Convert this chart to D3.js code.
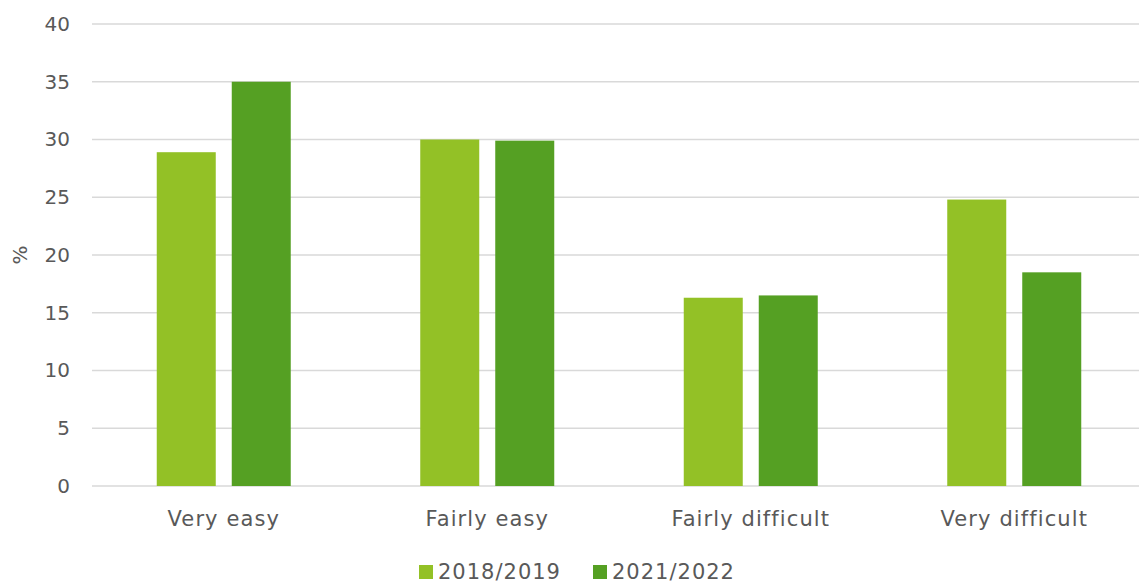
<!DOCTYPE html>
<html>
<head>
<meta charset="utf-8">
<script src="https://cdn.jsdelivr.net/npm/d3@7"></script>
<style>
  body { margin: 0; background: #fff; }
  svg text { font-family: "DejaVu Sans", Verdana, sans-serif; fill: #595959; }
</style>
</head>
<body>
<div id="container"></div>
<script>
const categories = ["Very easy", "Fairly easy", "Fairly difficult", "Very difficult"];
const seriesNames = ["2018/2019", "2021/2022"];
const values2018 = [28.9, 30.0, 16.3, 24.8];
const values2021 = [35.0, 29.9, 16.5, 18.5];
const yTicks = [0, 5, 10, 15, 20, 25, 30, 35, 40];
const colors = ["#93c126", "#55a023"];

const width = 1139;
const height = 585;
const margins = { top: 24, bottom: 99, left: 92, right: -7 };

const data = categories.map((c, i) => ({
    cat: c,
    vals: [values2018[i], values2021[i]]
}));

const svg = d3.select("#container").append("svg")
    .attr("width", width)
    .attr("height", height);

const x0 = d3.scaleBand()
    .domain(categories)
    .range([margins.left, width - margins.right])
    .padding(0);

const groupW = 134;
const x1 = d3.scaleBand()
    .domain(seriesNames)
    .range([(x0.bandwidth() - groupW) / 2, (x0.bandwidth() + groupW) / 2])
    .paddingInner(16 / 75)
    .paddingOuter(0);

const yScale = d3.scaleLinear()
    .domain([0, 40])
    .range([height - margins.bottom, margins.top]);

// grid lines
svg.append("g")
    .selectAll("line")
    .data(yTicks)
    .enter()
    .append("line")
    .attr("x1", margins.left)
    .attr("x2", width)
    .attr("y1", d => yScale(d))
    .attr("y2", d => yScale(d))
    .attr("stroke", "#d9d9d9")
    .attr("stroke-width", 1.5);

// y axis labels
const yAxis = d3.axisLeft(yScale).tickValues(yTicks).tickSize(0).tickPadding(22);
svg.append("g")
    .attr("transform", `translate(${margins.left}, 0)`)
    .call(yAxis)
    .call(g => g.select(".domain").remove())
    .selectAll("text")
    .style("font-size", "20px")
    .style("font-family", "DejaVu Sans")
    .attr("fill", "#595959");

// bars
const groups = svg.append("g")
    .selectAll("g")
    .data(data)
    .enter()
    .append("g")
    .attr("transform", d => `translate(${x0(d.cat)}, 0)`);

groups.selectAll("rect")
    .data(d => d.vals.map((v, i) => ({ name: seriesNames[i], v: v, i: i })))
    .enter()
    .append("rect")
    .attr("x", d => x1(d.name))
    .attr("width", x1.bandwidth())
    .attr("y", d => yScale(d.v))
    .attr("height", d => yScale(0) - yScale(d.v))
    .attr("fill", d => colors[d.i]);

// x axis labels
const xAxis = d3.axisBottom(x0).tickSize(0).tickPadding(25);
svg.append("g")
    .attr("transform", `translate(0, ${yScale(0)})`)
    .call(xAxis)
    .call(g => g.select(".domain").remove())
    .selectAll("text")
    .style("font-size", "21px")
    .style("font-family", "DejaVu Sans")
    .style("letter-spacing", "1.1px")
    .attr("fill", "#595959");

// y title
svg.append("text")
    .attr("transform", `translate(27, ${yScale(20)}) rotate(-90)`)
    .attr("text-anchor", "middle")
    .style("font-size", "20px")
    .text("%");

// legend
const legendX = [419, 593];
const legend = svg.append("g")
    .selectAll("g")
    .data(seriesNames)
    .enter()
    .append("g")
    .attr("transform", (d, i) => `translate(${legendX[i]}, 565)`);

legend.append("rect")
    .attr("width", 14)
    .attr("height", 14)
    .attr("fill", (d, i) => colors[i]);

legend.append("text")
    .attr("x", 19)
    .attr("y", 14)
    .style("font-size", "21px")
    .style("letter-spacing", "1px")
    .text(d => d);
</script>
</body>
</html>
